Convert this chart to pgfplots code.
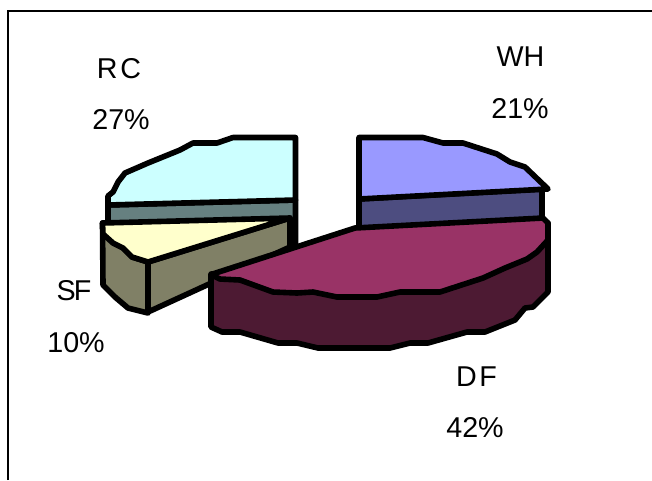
\documentclass[border=0pt]{standalone}
\usepackage{pgfplots}
\pgfplotsset{compat=1.18}
\usepackage{fontspec}
\setmainfont{Liberation Sans}
\definecolor{rcTop}{HTML}{CCFFFF}
\definecolor{rcSide}{HTML}{668080}
\definecolor{whTop}{HTML}{9999FF}
\definecolor{whSide}{HTML}{4D4D80}
\definecolor{dfTop}{HTML}{993366}
\definecolor{dfSide}{HTML}{4D1A33}
\definecolor{sfTop}{HTML}{FFFFCC}
\definecolor{sfSide}{HTML}{808066}
\tikzset{
  slice/.style={draw=black, line width=4.2pt, line join=round},
  lab/.style={anchor=base, font=\fontsize{21.5pt}{24pt}\selectfont, text=black},
}
\begin{document}
\begin{tikzpicture}
\begin{axis}[
  scale only axis, width=489pt, height=360pt,
  xmin=0, xmax=652, ymin=0, ymax=480, y dir=reverse,
  hide axis, clip=true,
]
% outer frame, open on the right and at the bottom
\addplot[black, line width=1.6pt, line join=miter] coordinates {(8.3,480) (8.3,10.7) (652,10.7)};

% RC slice: side wall, then top face
\addplot[slice, fill=rcSide] coordinates {(108,205) (108,260) (295.5,243) (295.5,200)} -- cycle;
\addplot[slice, fill=rcTop] coordinates {(295.5,137.5) (233,137.5) (217,143) (193,143) (180,150) (148,163)
  (125,173) (118,182) (113,192) (108,196) (108,205) (295.5,200)} -- cycle;

% WH slice: side wall, then top face
\addplot[slice, fill=whSide] coordinates {(359,199) (359,232) (542,232) (542,189)} -- cycle;
\addplot[slice, fill=whTop] coordinates {(359,137.5) (423,137.5) (443,143) (463,143) (497,154) (510,162)
  (525,167) (548,189) (359,199)} -- cycle;

% SF slice: walls, then top face
\addplot[slice, fill=sfSide] coordinates {(148,262) (290,218) (290,247) (148,312)} -- cycle;
\addplot[slice, fill=sfSide] coordinates {(102.5,223) (103,285) (115,297) (128,308) (148,313) (148,262)
  (132,257) (123,248) (113,240)} -- cycle;
\addplot[slice, fill=sfTop] coordinates {(102.5,223) (290,218) (148,262) (132,257) (123,248) (113,243) (103,234)} -- cycle;

% DF slice: side wall, then top face
\addplot[slice, fill=dfSide] coordinates {(211,274) (211,327) (222,332) (240,332) (278,343) (297,343) (318,348)
  (390,348) (410,343) (428,343) (467,332) (485,332) (515,320) (525,308) (533,307) (548,292) (548,223) (540,240) (300,280)} -- cycle;
\addplot[slice, fill=dfTop] coordinates {(211,274.5) (355,228) (543,218) (548,223) (548,240) (537,252) (527,259)
  (505,268) (483,278) (440,292) (400,292) (377,297) (337,297) (313,292) (297,293) (273,292) (240,280) (220,279)} -- cycle;

% slice labels with their shares
\node[lab] at (axis cs:119,78) {R\kern2pt C};
\node[lab] at (axis cs:121,129) {27\%};
\node[lab] at (axis cs:520.5,66) {WH};
\node[lab] at (axis cs:520,118) {21\%};
\node[lab] at (axis cs:74,300) {S\kern-1.5pt F};
\node[lab] at (axis cs:76,352) {10\%};
\node[lab] at (axis cs:476.5,386.5) {D\kern2pt F};
\node[lab] at (axis cs:475,437) {42\%};
\end{axis}
\path[use as bounding box] (current axis.south west) rectangle ++(489pt,360pt);
\end{tikzpicture}
\end{document}
